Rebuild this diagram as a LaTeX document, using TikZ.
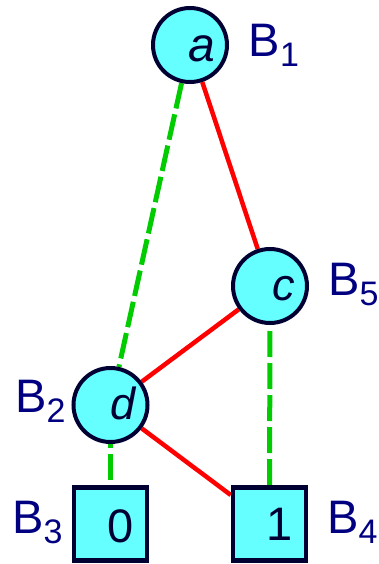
\documentclass[tikz,border=0pt]{standalone}
\usepackage{fontspec}
\setmainfont{Liberation Sans}
\usetikzlibrary{backgrounds}
\definecolor{nodefill}{HTML}{66FFFF}
\definecolor{edgeline}{HTML}{000033}
\definecolor{labelblue}{HTML}{000080}
\definecolor{redline}{HTML}{FF0000}
\definecolor{greenline}{HTML}{00CC00}
\newcommand{\subtxt}[1]{\raisebox{-10pt}{\fontsize{34}{34}\selectfont #1}}
\begin{document}
\begin{tikzpicture}[x=1pt,y=-1pt,
  vtx/.style={circle,draw=edgeline,fill=nodefill,line width=4pt,minimum size=74pt,inner sep=0pt},
  leaf/.style={rectangle,draw=edgeline,fill=nodefill,line width=4.5pt,minimum size=73pt,inner sep=0pt},
  lettr/.style={inner sep=0pt,anchor=base,text=edgeline,font=\fontsize{45}{45}\selectfont\itshape},
  digit/.style={inner sep=0pt,anchor=base,text=edgeline,font=\fontsize{47}{47}\selectfont},
  blab/.style={inner sep=0pt,anchor=base west,text=labelblue,font=\fontsize{47}{47}\selectfont},
  rededge/.style={draw=redline,line width=4.5pt},
  greenedge/.style={draw=greenline,line width=5pt,dash pattern=on 26pt off 6pt}]
\useasboundingbox (0,0) rectangle (378,564);
% vertices
\node[vtx] (a) at (190,45) {};
\node[vtx] (c) at (270,286) {};
\node[vtx] (d) at (110.5,405) {};
\node[leaf] (n0) at (110.5,524) {};
\node[leaf] (n1) at (269.5,524) {};
% letters
\node[lettr,font=\fontsize{48}{48}\selectfont\itshape] (ta) at (201.5,62) {a};
\node[lettr] (tc) at (284,300) {c};
\node[lettr] (td) at (123.5,419) {d};
\node[digit] (t0) at (120.5,542) {0};
\node[digit] (t1) at (280,540) {1};
% labels
\node[blab] (l1) at (248.6,57) {B\subtxt{1}};
\node[blab] (l5) at (328,295) {B\subtxt{5}};
\node[blab] (l2) at (15,412) {B\subtxt{2}};
\node[blab] (l3) at (12,533) {B\subtxt{3}};
\node[blab] (l4) at (327,533) {B\subtxt{4}};
% edges
\begin{scope}[on background layer]
\draw[greenedge] (a) -- (d);
\draw[rededge] (a) -- (c);
\draw[rededge] (c) -- (d);
\draw[greenedge,dash phase=26pt] (c) -- (n1);
\draw[greenedge,dash phase=22pt] (d) -- (n0);
\draw[rededge] (d) -- (n1);
\end{scope}
\end{tikzpicture}
\end{document}
